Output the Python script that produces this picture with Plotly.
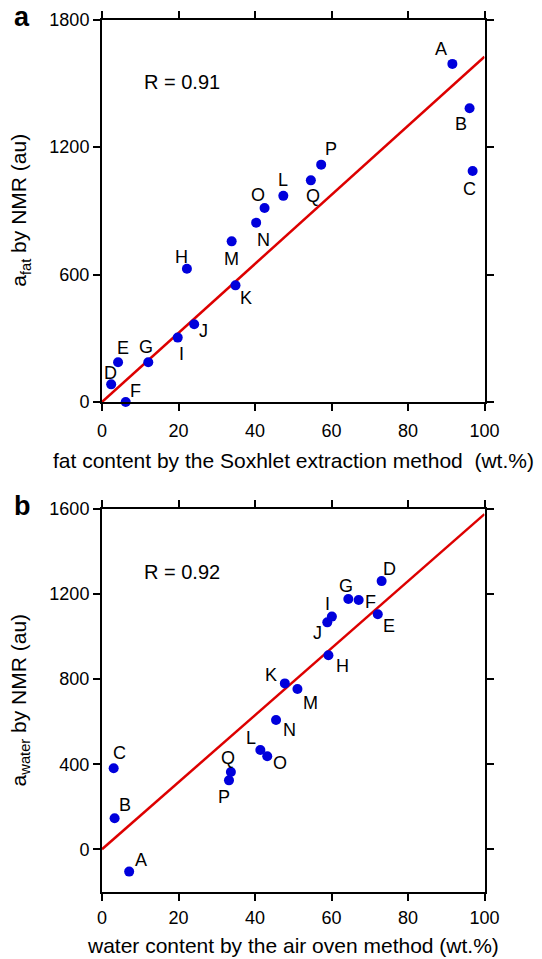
import plotly.graph_objects as go

# ---------------- data ----------------
labels = list("ABCDEFGHIJKLMNOPQ")

fat_x = [91.6, 96.1, 96.9, 2.4, 4.2, 6.2, 12.1, 22.2, 19.8, 24.1, 34.9, 47.4, 33.9, 40.3, 42.5, 57.3, 54.6]
fat_y = [1591, 1382, 1087, 83, 187, 0, 187, 627, 303, 366, 549, 970, 756, 844, 913, 1117, 1043]

water_x = [7.1, 3.3, 3.05, 73.1, 72.1, 67.1, 64.4, 59.2, 60.1, 58.9, 47.8, 41.4, 51.1, 45.5, 43.2, 33.2, 33.7]
water_y = [-105, 146, 381, 1261, 1105, 1172, 1177, 912, 1094, 1067, 780, 467, 754, 608, 437, 324, 363]

fat_fit_slope, fat_fit_intercept = 16.25, 0.0
water_fit_slope, water_fit_intercept = 15.76, 0.0
fit_x = [0, 100]

r_fat = "R = 0.91"
r_water = "R = 0.92"

x_ticks = [0, 20, 40, 60, 80, 100]
fat_y_ticks = [0, 600, 1200, 1800]
water_y_ticks = [0, 400, 800, 1200, 1600]

# ---------------- label offsets (px; dx right, dy down) ----------------
fat_offsets = {
    "A": (-11, -15), "B": (-9, 16), "C": (-3, 18), "D": (-1, -11), "E": (5, -14),
    "F": (10, -11), "G": (-2, -15), "H": (-5, -12), "I": (4, 16), "J": (9, 7),
    "K": (11, 13), "L": (0, -16), "M": (0, 18), "N": (7, 17), "O": (-7, -13),
    "P": (10, -16), "Q": (2, 16),
}
water_offsets = {
    "A": (12, -12), "B": (10, -13), "C": (6, -15), "D": (8, -12), "E": (11, 12),
    "F": (12, 2), "G": (-2, -13), "H": (14, 11), "I": (-4, -13), "J": (-10, 11),
    "K": (-14, -8), "L": (-9, -12), "M": (13, 14), "N": (13, 10), "O": (13, 7),
    "P": (-5, 17), "Q": (-3, -14),
}

W, H = 542, 959
FONT = "Liberation Sans, Arial, sans-serif"
BLUE = "#0000dc"
RED = "#dd0000"


def py(px):
    return 1 - px / H


def px_x(px):
    return px / W


fig = go.Figure()

# top panel
fig.add_trace(go.Scatter(
    x=fit_x, y=[fat_fit_intercept + fat_fit_slope * v for v in fit_x],
    mode="lines", line=dict(color=RED, width=2.5), xaxis="x", yaxis="y",
    showlegend=False, hoverinfo="skip"))
fig.add_trace(go.Scatter(
    x=fat_x, y=fat_y, mode="markers", marker=dict(color=BLUE, size=10),
    xaxis="x", yaxis="y", showlegend=False, cliponaxis=False, text=labels))

# bottom panel
fig.add_trace(go.Scatter(
    x=fit_x, y=[water_fit_intercept + water_fit_slope * v for v in fit_x],
    mode="lines", line=dict(color=RED, width=2.5), xaxis="x2", yaxis="y2",
    showlegend=False, hoverinfo="skip"))
fig.add_trace(go.Scatter(
    x=water_x, y=water_y, mode="markers", marker=dict(color=BLUE, size=10),
    xaxis="x2", yaxis="y2", showlegend=False, cliponaxis=False, text=labels))

x_dom = [px_x(102), px_x(484.5)]
axis_common = dict(
    showline=True, linewidth=2, linecolor="black", mirror="ticks",
    ticks="outside", ticklen=7, tickwidth=2, tickcolor="black",
    showgrid=False, zeroline=False, automargin=False,
    tickfont=dict(family=FONT, size=18, color="black"),
)

fig.update_layout(
    width=W, height=H,
    margin=dict(l=0, r=0, t=0, b=0, autoexpand=False),
    paper_bgcolor="white", plot_bgcolor="white",
    font=dict(family=FONT, color="black"),
    xaxis=dict(domain=x_dom, range=[0, 100], tickvals=x_ticks, anchor="y",
               ticklabelstandoff=4, **axis_common),
    yaxis=dict(domain=[py(402), py(19.5)], range=[0, 1800], tickvals=fat_y_ticks,
               anchor="x", **axis_common),
    xaxis2=dict(domain=x_dom, range=[0, 100], tickvals=x_ticks, anchor="y2",
                ticklabelstandoff=2, **axis_common),
    yaxis2=dict(domain=[py(891.8), py(509)], range=[-200, 1600], tickvals=water_y_ticks,
                anchor="x2", **axis_common),
)

annotations = []
lab_font = dict(family=FONT, size=18, color="black")
for name, xv, yv in zip(labels, fat_x, fat_y):
    dx, dy = fat_offsets[name]
    annotations.append(dict(x=xv, y=yv, xref="x", yref="y", text=name, showarrow=False,
                            xanchor="center", yanchor="middle",
                            xshift=dx, yshift=-dy, font=lab_font))
for name, xv, yv in zip(labels, water_x, water_y):
    dx, dy = water_offsets[name]
    annotations.append(dict(x=xv, y=yv, xref="x2", yref="y2", text=name, showarrow=False,
                            xanchor="center", yanchor="middle",
                            xshift=dx, yshift=-dy, font=lab_font))

# R values
annotations.append(dict(x=10.5, y=1507, xref="x", yref="y", text=r_fat, showarrow=False,
                        xanchor="left", yanchor="middle",
                        font=dict(family=FONT, size=20, color="black")))
annotations.append(dict(x=10.5, y=1305, xref="x2", yref="y2", text=r_water, showarrow=False,
                        xanchor="left", yanchor="middle",
                        font=dict(family=FONT, size=20, color="black")))

title_font = dict(family=FONT, size=21, color="black")
ctr = dict(xref="paper", yref="paper", showarrow=False, xanchor="center", yanchor="middle")
# x titles
annotations.append(dict(x=px_x(293.25), y=py(460),
                        text="fat content by the Soxhlet extraction method \u00a0(wt.%)",
                        font=title_font, **ctr))
annotations.append(dict(x=px_x(293.25), y=py(945.5),
                        text="water content by the air oven method (wt.%)",
                        font=title_font, **ctr))
# y titles
annotations.append(dict(x=px_x(20), y=py(210.75),
                        text="a<sub>fat</sub> by NMR (au)", textangle=-90,
                        font=title_font, **ctr))
annotations.append(dict(x=px_x(20), y=py(700.4),
                        text="a<sub>water</sub> by NMR (au)", textangle=-90,
                        font=title_font, **ctr))
# panel letters
panel_font = dict(family=FONT, size=27, color="black")
annotations.append(dict(x=px_x(22), y=py(17), text="<b>a</b>", font=panel_font, **ctr))
annotations.append(dict(x=px_x(22), y=py(506), text="<b>b</b>", font=panel_font, **ctr))

fig.update_layout(annotations=annotations)
fig.write_html("out.html", config={"displayModeBar": False},
               post_script="document.body.style.margin='0';document.body.style.overflow='hidden';")
